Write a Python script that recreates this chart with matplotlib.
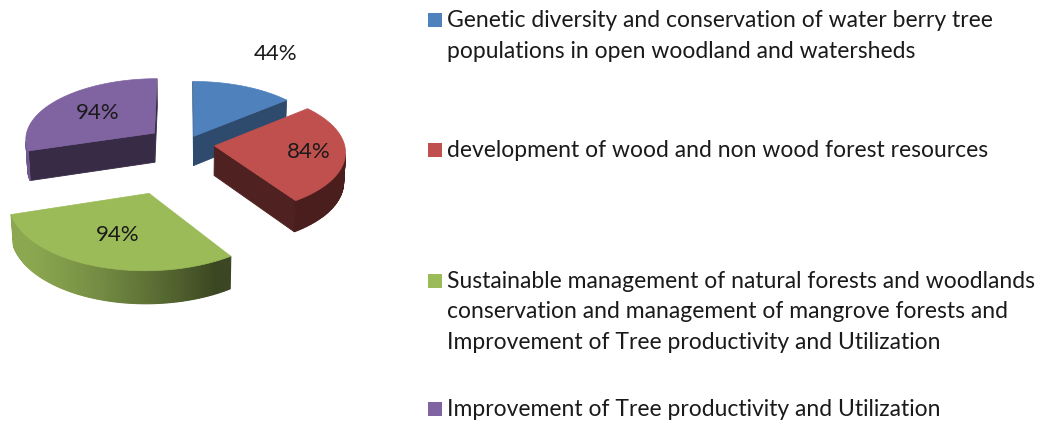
import numpy as np
import matplotlib
matplotlib.use('Agg')
import matplotlib.pyplot as plt
from matplotlib.patches import Polygon, Rectangle
from matplotlib.colors import to_rgb

# ---------------- data ----------------
values = [44, 84, 94, 94]
pct_labels = ['44%', '84%', '94%', '94%']
legend_labels = [
    "Genetic diversity and conservation of water berry tree\npopulations in open woodland and watersheds",
    "development of wood and non wood forest resources",
    "Sustainable management of natural forests and woodlands\nconservation and management of mangrove forests and\nImprovement of Tree productivity and Utilization",
    "Improvement of Tree productivity and Utilization",
]
colors = ['#4F81BD', '#C0504D', '#9BBB59', '#8064A2']

# ---------------- style ----------------
explode = [0.14, 0.22, 0.80, 0.306]
cut_shade = [0.58, 0.41, 0.45, 0.43]
label_r = [1.72, 0.72, 0.60, 0.58]
legend_baselines = [27, 157, 288, 416]
line_step = 30.5

plt.rcParams['font.family'] = ['Lato', 'DejaVu Sans']

W, H = 1054, 428
fig = plt.figure(figsize=(W / 100, H / 100), dpi=100)
ax = fig.add_axes([0, 0, 1, 1])
ax.set_xlim(0, W)
ax.set_ylim(H, 0)
ax.axis('off')

# simple perspective camera for a 3-D pie
phi = np.radians(28)
D = 10.0
f = 130 * D
cx, cy = 186, 144
t = 0.26
cam = np.array([0.0, -D * np.cos(phi), D * np.sin(phi)])
L = np.array([-0.9, -0.45, 0.0])
L = L / np.linalg.norm(L)


def proj(P):
    P = np.atleast_2d(P)
    X, Y, Z = P[:, 0], P[:, 1], P[:, 2]
    dist = D + Y * np.cos(phi) - Z * np.sin(phi)
    sx = cx + f * X / dist
    sy = cy - f * (Y * np.sin(phi) + Z * np.cos(phi)) / dist
    return np.column_stack([sx, sy])


def depth(P):
    return D + P[1] * np.cos(phi) - P[2] * np.sin(phi)


def u(a):
    return np.array([np.cos(a), np.sin(a), 0.0])


def front(n, P):
    return np.dot(n, cam - P) > 0


total = float(sum(values))
sweeps = 2 * np.pi * np.array(values) / total
starts = np.pi / 2 - np.concatenate([[0], np.cumsum(sweeps)[:-1]])
ends = starts - sweeps
mids = (starts + ends) / 2
dz = np.array([0, 0, -t])

order = sorted(range(len(values)),
               key=lambda i: -depth(explode[i] * u(mids[i]) + 0.5 * u(mids[i])))

for i in order:
    base = np.array(to_rgb(colors[i]))
    o = explode[i] * u(mids[i])
    th = np.linspace(starts[i], ends[i], 120)
    rim = np.array([o + u(a) for a in th])

    # cut faces
    for a, nsign in ((starts[i], 1), (ends[i], -1)):
        n = u(a + nsign * np.pi / 2)
        pts = np.array([o, o + u(a), o + u(a) + dz, o + dz])
        if front(n, pts.mean(axis=0)):
            c = np.clip(base * cut_shade[i], 0, 1)
            ax.add_patch(Polygon(proj(pts), closed=True, facecolor=c,
                                 edgecolor=c, lw=0.6, zorder=2))
    # outer wall
    for k in range(len(th) - 1):
        am = (th[k] + th[k + 1]) / 2
        n = u(am)
        pts = np.array([rim[k], rim[k + 1], rim[k + 1] + dz, rim[k] + dz])
        if front(n, pts.mean(axis=0)):
            s = 0.38 + 0.52 * np.clip(np.dot(n, L), 0, 1)
            c = np.clip(base * s, 0, 1)
            ax.add_patch(Polygon(proj(pts), closed=True, facecolor=c,
                                 edgecolor=c, lw=0.8, zorder=2))
    # top face
    top = np.vstack([o, rim])
    ax.add_patch(Polygon(proj(top), closed=True, facecolor=base,
                         edgecolor=base, lw=0.5, zorder=3))

    # percentage label
    lp = proj(o + label_r[i] * u(mids[i]))[0]
    ax.text(lp[0], lp[1], pct_labels[i], ha='center', va='center',
            fontsize=16, color='#1a1a1a', zorder=5)

# legend
for i, lab in enumerate(legend_labels):
    b0 = legend_baselines[i]
    ax.add_patch(Rectangle((428, b0 - 14), 14, 14, facecolor=colors[i],
                           edgecolor='none', zorder=4))
    for j, line in enumerate(lab.split('\n')):
        ax.text(447, b0 + j * line_step, line, ha='left', va='baseline',
                fontsize=16.5, color='#1a1a1a')

fig.savefig('out.png', dpi=100)
